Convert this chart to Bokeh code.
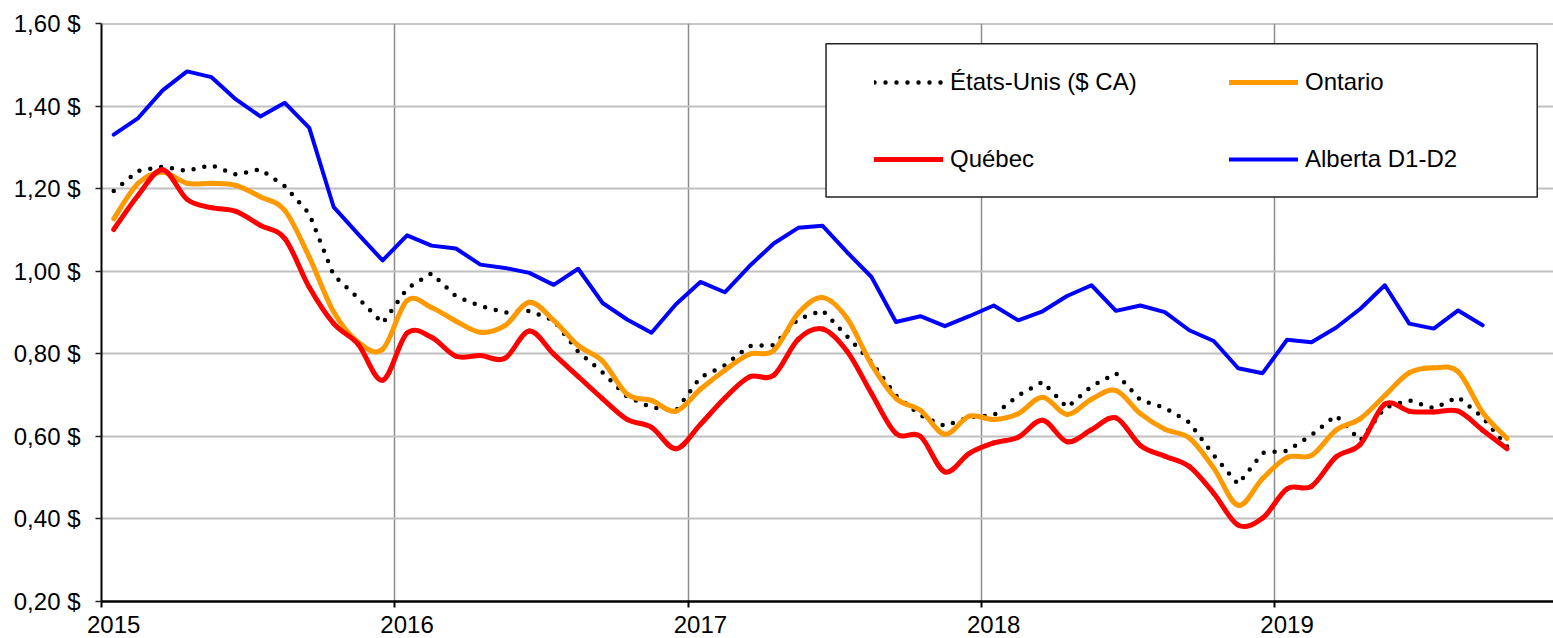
import pandas as pd
from bokeh.plotting import figure
from bokeh.models import (Range1d, FixedTicker, CustomJSTickFormatter, Legend,
                          LegendItem, BoxAnnotation, Span, ColumnDataSource)
from bokeh.embed import file_html
from bokeh.resources import INLINE

# ---------------- data (monthly, Jan 2015 -> Oct 2019) ----------------
months = pd.date_range("2015-01-01", periods=58, freq="MS")
x_month = list(months.year + (months.month - 0.5) / 12.0)

us = [1.194, 1.243, 1.253, 1.243, 1.257, 1.234, 1.247, 1.206, 1.139, 0.990, 0.935, 0.874,
      0.958, 0.995, 0.939, 0.916, 0.900, 0.904, 0.881, 0.805, 0.755, 0.696, 0.670, 0.662,
      0.743, 0.772, 0.819, 0.821, 0.884, 0.905, 0.842, 0.780, 0.699, 0.651, 0.625, 0.647,
      0.651, 0.699, 0.732, 0.670, 0.721, 0.753, 0.688, 0.669, 0.634, 0.554, 0.484, 0.560,
      0.565, 0.603, 0.651, 0.590, 0.670, 0.687, 0.668, 0.695, 0.646, 0.575]

ontario = [1.127, 1.213, 1.240, 1.213, 1.213, 1.208, 1.180, 1.147, 1.034, 0.901, 0.828, 0.811,
           0.929, 0.912, 0.879, 0.852, 0.868, 0.925, 0.881, 0.820, 0.782, 0.702, 0.687, 0.661,
           0.714, 0.760, 0.799, 0.808, 0.898, 0.936, 0.886, 0.774, 0.692, 0.663, 0.605, 0.649,
           0.641, 0.655, 0.695, 0.653, 0.690, 0.711, 0.655, 0.617, 0.596, 0.523, 0.433, 0.498,
           0.549, 0.554, 0.615, 0.643, 0.699, 0.754, 0.766, 0.756, 0.658, 0.595]

quebec = [1.101, 1.184, 1.246, 1.174, 1.154, 1.145, 1.111, 1.079, 0.961, 0.873, 0.823, 0.736,
          0.850, 0.840, 0.794, 0.796, 0.789, 0.855, 0.799, 0.745, 0.691, 0.641, 0.622, 0.570,
          0.629, 0.693, 0.744, 0.748, 0.835, 0.860, 0.806, 0.704, 0.607, 0.600, 0.514, 0.559,
          0.584, 0.598, 0.639, 0.587, 0.616, 0.645, 0.578, 0.552, 0.527, 0.462, 0.385, 0.402,
          0.473, 0.479, 0.550, 0.581, 0.678, 0.661, 0.659, 0.661, 0.615, 0.570]

alberta = [1.331, 1.371, 1.438, 1.484, 1.470, 1.416, 1.375, 1.408, 1.347, 1.155, 1.090, 1.026,
           1.087, 1.062, 1.055, 1.016, 1.008, 0.996, 0.967, 1.006, 0.923, 0.883, 0.851, 0.920,
           0.974, 0.949, 1.012, 1.067, 1.105, 1.110, 1.046, 0.986, 0.877, 0.891, 0.867, 0.891,
           0.917, 0.881, 0.903, 0.940, 0.966, 0.904, 0.917, 0.901, 0.857, 0.831, 0.765, 0.753,
           0.834, 0.828, 0.863, 0.909, 0.966, 0.873, 0.861, 0.905, 0.869]

series_labels = ["États-Unis ($ CA)", "Ontario", "Québec", "Alberta D1-D2"]

year_ticks = [2015, 2016, 2017, 2018, 2019]
year_labels = ["2015", "2016", "2017", "2018", "2019"]
y_ticks = [0.2, 0.4, 0.6, 0.8, 1.0, 1.2, 1.4, 1.6]
y_labels = ["0,20 $", "0,40 $", "0,60 $", "0,80 $", "1,00 $", "1,20 $", "1,40 $", "1,60 $"]

FONT = "Liberation Sans"
FS = "24px"

LOOKUP = """
for (let i = 0; i < tvals.length; i++) { if (Math.abs(tick - tvals[i]) < 1e-6) return tlabels[i]; }
return '';
"""


def smooth_source(xs, ys):
    """Cubic Bezier segments through the data points (Catmull-Rom tangents),
    like a spreadsheet 'smoothed line'."""
    n = len(ys)
    d = dict(x0=[], y0=[], x1=[], y1=[], cx0=[], cy0=[], cx1=[], cy1=[])
    for i in range(n - 1):
        a, b = max(i - 1, 0), min(i + 2, n - 1)
        d["x0"].append(xs[i]); d["y0"].append(ys[i])
        d["x1"].append(xs[i + 1]); d["y1"].append(ys[i + 1])
        d["cx0"].append(xs[i] + (xs[i + 1] - xs[a]) / 6.0)
        d["cy0"].append(ys[i] + (ys[i + 1] - ys[a]) / 6.0)
        d["cx1"].append(xs[i + 1] - (xs[b] - xs[i]) / 6.0)
        d["cy1"].append(ys[i + 1] - (ys[b] - ys[i]) / 6.0)
    return ColumnDataSource(d)


# ---------------- figure ----------------
p = figure(width=1553, height=638, output_backend="svg", toolbar_location=None,
           x_range=Range1d(2015, 2019.950), y_range=Range1d(0.2, 1.6),
           min_border_left=101, min_border_right=0, min_border_top=23, min_border_bottom=37)
p.outline_line_color = None
p.background_fill_color = "white"
p.border_fill_color = "white"

# y axis
p.yaxis.ticker = FixedTicker(ticks=y_ticks)
p.yaxis.formatter = CustomJSTickFormatter(args=dict(tvals=y_ticks, tlabels=y_labels), code=LOOKUP)
p.yaxis.axis_line_color = "black"
p.yaxis.axis_line_width = 2
p.yaxis.major_tick_out = 6
p.yaxis.major_tick_in = 0
p.yaxis.major_tick_line_color = "#222222"
p.yaxis.major_tick_line_width = 1.5
p.yaxis.minor_tick_line_color = None
p.yaxis.major_label_standoff = 15
p.yaxis.major_label_text_font = FONT
p.yaxis.major_label_text_font_size = FS
p.yaxis.major_label_text_color = "black"

# x axis: labels centred on mid-January, tick marks / grid on 1 January
label_pos = [y + 0.5 / 12.0 for y in year_ticks]
p.xaxis.ticker = FixedTicker(ticks=label_pos, minor_ticks=year_ticks)
p.xaxis.formatter = CustomJSTickFormatter(args=dict(tvals=label_pos, tlabels=year_labels), code=LOOKUP)
p.xaxis.axis_line_color = "black"
p.xaxis.axis_line_width = 2.5
p.xaxis.major_tick_line_color = None
p.xaxis.major_tick_out = 0
p.xaxis.major_tick_in = 0
p.xaxis.minor_tick_line_color = "black"
p.xaxis.minor_tick_line_width = 2
p.xaxis.minor_tick_out = 6
p.xaxis.minor_tick_in = 0
p.xaxis.major_label_standoff = 8
p.xaxis.major_label_text_font = FONT
p.xaxis.major_label_text_font_size = FS
p.xaxis.major_label_text_color = "black"

# grids
p.ygrid.grid_line_color = "#c0c0c0"
p.ygrid.grid_line_width = 2
p.xgrid.grid_line_color = None
p.xgrid.minor_grid_line_color = "#8c8c8c"
p.xgrid.minor_grid_line_width = 1.5
p.add_layout(Span(location=y_ticks[-1], dimension="width", line_color="#8c8c8c", line_width=2))

# ---------------- series ----------------
r_us = p.line(x_month[:len(us)], us, line_color="black", line_width=4.5,
              line_dash="0 11", line_cap="round", line_join="round")
r_on = p.bezier(x0="x0", y0="y0", x1="x1", y1="y1", cx0="cx0", cy0="cy0", cx1="cx1", cy1="cy1",
                source=smooth_source(x_month, ontario), line_color="#ff9900", line_width=5,
                line_cap="round")
r_qc = p.bezier(x0="x0", y0="y0", x1="x1", y1="y1", cx0="cx0", cy0="cy0", cx1="cx1", cy1="cy1",
                source=smooth_source(x_month, quebec), line_color="#ff0000", line_width=5,
                line_cap="round")
r_ab = p.line(x_month[:len(alberta)], alberta, line_color="#0000ff", line_width=4,
              line_join="round", line_cap="round")

# ---------------- legend ----------------
box = BoxAnnotation(left=2017.470, right=2019.8945, top=1.5509, bottom=1.1795,
                    fill_color="white", fill_alpha=1.0, line_color="#222222", line_width=1.5,
                    line_alpha=1.0)
p.add_layout(box)

common = dict(glyph_width=69, glyph_height=30, label_height=30, label_standoff=7,
              spacing=47, padding=0, margin=0, border_line_alpha=0,
              background_fill_alpha=0, label_text_font=FONT, label_text_font_size=FS,
              label_text_color="black")
leg1 = Legend(items=[LegendItem(label=series_labels[0], renderers=[r_us]),
                     LegendItem(label=series_labels[2], renderers=[r_qc], index=0)],
              location=(773, 427), **common)
leg2 = Legend(items=[LegendItem(label=series_labels[1], renderers=[r_on], index=0),
                     LegendItem(label=series_labels[3], renderers=[r_ab])],
              location=(1128, 427), **common)
p.add_layout(leg1)
p.add_layout(leg2)

open("out.html", "w").write(file_html(p, INLINE))
